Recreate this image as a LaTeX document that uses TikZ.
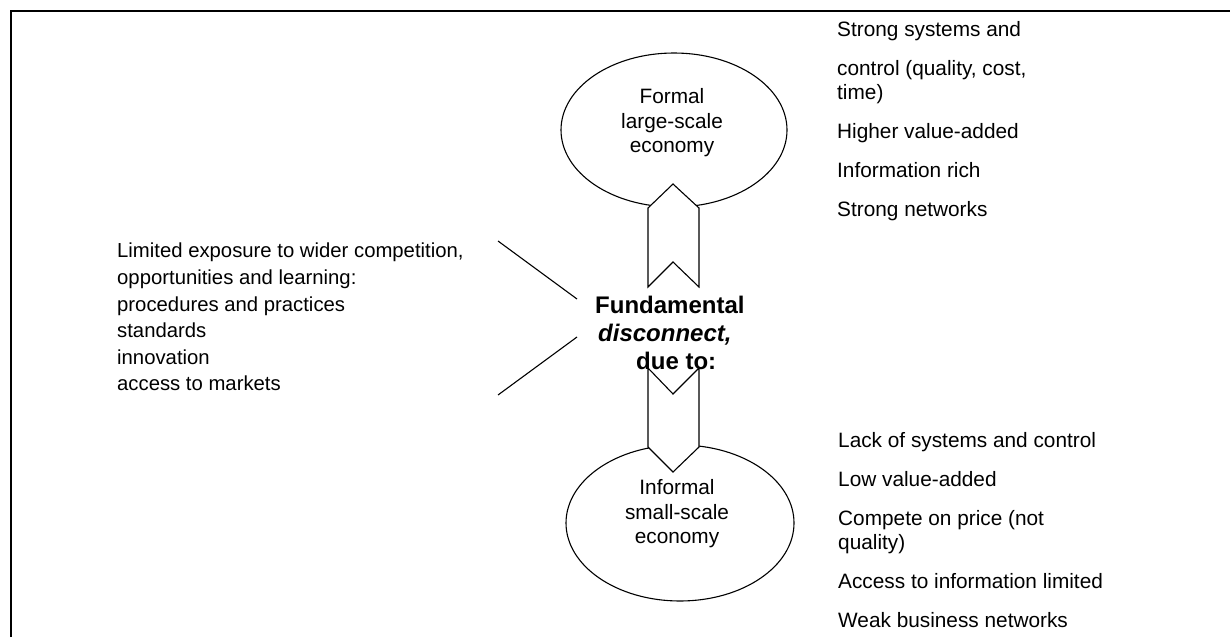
\documentclass[tikz,border=0pt]{standalone}
\usepackage{fontspec}
\setmainfont{Liberation Sans}
\usetikzlibrary{shapes.geometric}

\begin{document}
\begin{tikzpicture}[x=1pt, y=-1pt,
    econ/.style={ellipse, draw, line width=1.1pt, inner sep=0},
    econtext/.style={align=center, inner sep=0, font=\fontsize{20.8}{24.5}\selectfont},
    plaintext/.style={align=left, inner sep=0, anchor=north west, font=\fontsize{20.8}{24}\selectfont},
    band/.style={draw, fill=white, line width=1.1pt}]
    \useasboundingbox (0,0) rectangle (1230,637);

    \draw[line width=2pt] (11,637) -- (11,11) -- (1230,11);

    \node[econ, minimum width=226, minimum height=154] (formal) at (674,130) {};
    \node[econ, minimum width=228, minimum height=156] (informal) at (680,523) {};
    \node[econtext] (formaltext) at (672,123) {Formal\\large-scale\\economy};
    \node[econtext] (informaltext) at (677,514) {Informal\\small-scale\\economy};

    \draw[band] (648,208) -- (673,184) -- (699,208) -- (699,287) -- (673,262) -- (648,287) -- cycle;
    \draw[band] (648,368) -- (673,394) -- (699,368) -- (699,447) -- (673,472) -- (648,447) -- cycle;

    \node[anchor=north west, inner sep=0, align=left, font=\bfseries\fontsize{24}{28}\selectfont] (disconnect) at (595,296)
        {Fundamental\\\hspace*{3pt}\textit{disconnect,}\\\hspace*{41pt}due to:};

    \node[plaintext, font=\fontsize{20.3}{26.6}\selectfont] (exposure) at (117,243)
        {Limited exposure to wider competition,\\opportunities and learning:\\procedures and practices\\standards\\innovation\\access to markets};

    \node[plaintext] (strong) at (837,21)
        {Strong systems and\\[15pt]control (quality, cost,\\time)\\[15pt]Higher value-added\\[15pt]Information rich\\[15pt]Strong networks};
    \node[plaintext] (weak) at (838,432)
        {Lack of systems and control\\[15pt]Low value-added\\[15pt]Compete on price (not\\quality)\\[15pt]Access to information limited\\[15pt]Weak business networks};

    \coordinate (lefttop) at (498,241);
    \coordinate (meettop) at (577,299);
    \coordinate (meetbot) at (577,337);
    \coordinate (leftbot) at (498,395);
    \draw[line width=1.1pt] (lefttop) -- (meettop);
    \draw[line width=1.1pt] (meetbot) -- (leftbot);
\end{tikzpicture}
\end{document}
